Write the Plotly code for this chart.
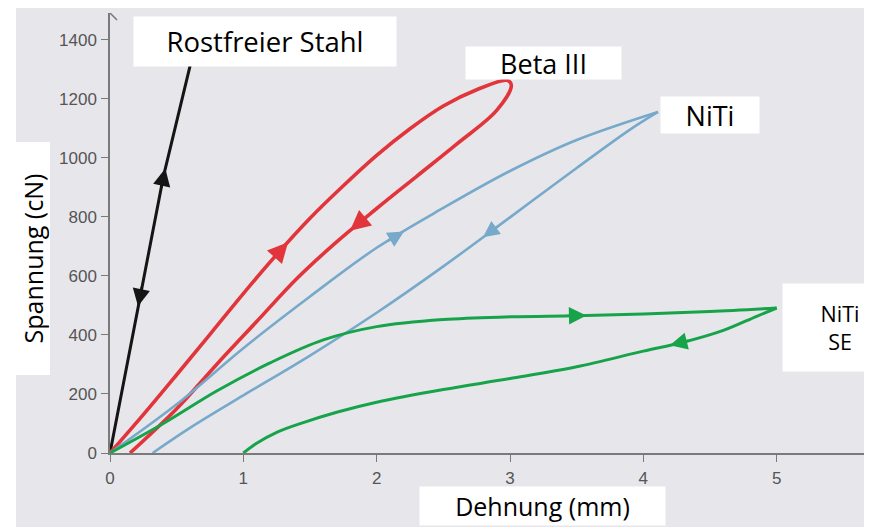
import numpy as np
import plotly.graph_objects as go

# ---------------- data ----------------
steel_x = [0, 0.22, 0.40, 0.60, 0.66]
steel_y = [0, 520, 935, 1310, 1450]

beta_load_x = [0, 0.25, 0.5, 0.75, 1.0, 1.25, 1.5, 1.75, 2.0, 2.25, 2.5, 2.75, 2.98]
beta_load_y = [0, 130, 265, 402, 540, 672, 795, 905, 1008, 1098, 1175, 1230, 1262]
beta_unload_x = [3.01, 2.9, 2.6, 2.3, 2.0, 1.7, 1.4, 1.1, 0.8, 0.5, 0.15]
beta_unload_y = [1245, 1160, 1046, 937, 828, 715, 590, 445, 300, 150, 0]

niti_load_x = [0, 0.5, 1.0, 1.5, 2.0, 2.5, 3.0, 3.5, 4.11]
niti_load_y = [0, 165, 355, 530, 695, 830, 955, 1060, 1155]
niti_unload_x = [4.11, 3.9, 3.5, 3.0, 2.5, 2.0, 1.5, 1.0, 0.6, 0.32]
niti_unload_y = [1155, 1095, 965, 798, 632, 475, 330, 195, 85, 0]

se_load_x = [0, 0.4, 0.8, 1.2, 1.6, 2.0, 2.5, 3.0, 3.5, 4.0, 4.5, 5.0]
se_load_y = [0, 100, 210, 305, 383, 428, 452, 461, 465, 471, 479, 491]
se_unload_x = [5.0, 4.85, 4.6, 4.3, 4.0, 3.5, 3.0, 2.5, 2.0, 1.7, 1.45, 1.25, 1.1, 1.0]
se_unload_y = [491, 463, 415, 375, 345, 292, 252, 215, 172, 138, 103, 70, 33, 0]

x_ticks = [0, 1, 2, 3, 4, 5]
y_ticks = [0, 200, 400, 600, 800, 1000, 1200, 1400]

BLACK = "#151515"
RED = "#e2343b"
BLUE = "#76a9ca"
GREEN = "#17a34a"

# arrow markers: (curve x, curve y, coordinate key, value at arrow, colour, width)
arrows = [
    (steel_x, steel_y, "y", 940, BLACK, 3),
    (steel_x[::-1], steel_y[::-1], "y", 520, BLACK, 3),
    (beta_load_x, beta_load_y, "x", 1.30, RED, 3.5),
    (beta_unload_x, beta_unload_y, "x", 1.84, RED, 3.5),
    (niti_load_x, niti_load_y, "x", 2.16, BLUE, 2.8),
    (niti_unload_x, niti_unload_y, "x", 2.84, BLUE, 2.8),
    (se_load_x, se_load_y, "x", 3.52, GREEN, 3),
    (se_unload_x, se_unload_y, "x", 4.25, GREEN, 3),
]

X_MAX = 5.655
Y_MAX = 1490
SX = 754 / X_MAX   # px per mm
SY = 440 / Y_MAX   # px per cN


def along(xs, ys, key, val, fwd_px, back_px):
    xs = np.asarray(xs, float)
    ys = np.asarray(ys, float)
    px, py = xs * SX, ys * SY
    seg = np.hypot(np.diff(px), np.diff(py))
    s = np.concatenate([[0], np.cumsum(seg)])
    k = xs if key == "x" else ys
    sh = 0.0
    for i in range(len(k) - 1):
        a, b = k[i], k[i + 1]
        if min(a, b) <= val <= max(a, b) and a != b:
            sh = s[i] + (val - a) / (b - a) * seg[i]
            break
    head, tail = sh + fwd_px, sh - back_px
    return (np.interp(head, s, xs), np.interp(head, s, ys),
            np.interp(tail, s, xs), np.interp(tail, s, ys))


def curve(xs, ys, col, w):
    return go.Scatter(x=xs, y=ys, mode="lines", showlegend=False, hoverinfo="skip",
                      line=dict(color=col, width=w, shape="spline", smoothing=1.0))


fig = go.Figure()
fig.add_trace(go.Scatter(x=steel_x, y=steel_y, mode="lines", showlegend=False,
                         line=dict(color=BLACK, width=3)))
fig.add_trace(curve(beta_load_x + beta_unload_x, beta_load_y + beta_unload_y, RED, 3.6))
fig.add_trace(curve(niti_load_x, niti_load_y, BLUE, 2.6))
fig.add_trace(curve(niti_unload_x, niti_unload_y, BLUE, 2.6))
fig.add_trace(curve(se_load_x, se_load_y, GREEN, 3))
fig.add_trace(curve(se_unload_x, se_unload_y, GREEN, 3))

annotations = []
for xs, ys, key, val, col, w in arrows:
    hx, hy, tx, ty = along(xs, ys, key, val, 7, 14)
    annotations.append(dict(x=hx, y=hy, ax=tx, ay=ty, xref="x", yref="y", axref="x", ayref="y",
                            text="", showarrow=True, arrowhead=2, arrowsize=1.45,
                            arrowwidth=w * 0.8, arrowcolor=col, standoff=0, startstandoff=0))

LABEL_FONT = "Open Sans, Noto Sans, sans-serif"


# plot area in window pixels: x 110..864, y 13..453
def box(text, cx, cy, w, h, size, angle=0):
    return dict(text=text, x=(cx - 110) / 754, y=(453 - cy) / 440, xref="paper", yref="paper",
                xanchor="center", yanchor="middle", showarrow=False, width=w, height=h,
                bgcolor="white", borderpad=0, textangle=angle,
                font=dict(family=LABEL_FONT, size=size, color="black"))


annotations += [
    box("Rostfreier Stahl", 265, 41.5, 262, 49, 27.5),
    box("Beta III", 543.5, 63, 155, 32, 27),
    box("NiTi", 710, 115, 98, 36, 27),
    box("NiTi<br>SE", 840, 327, 114, 87, 21.5),
    box("Spannung (cN)", 32.5, 259, 232, 33, 25, -90),
    box("Dehnung (mm)", 542.5, 506, 245, 38, 25),
]

GREY_BG = "#e7e7eb"
shapes = [
    dict(type="rect", xref="paper", yref="paper", x0=(16 - 110) / 754, x1=1.0,
         y0=-0.3, y1=(453 - 4) / 440, fillcolor=GREY_BG, line=dict(width=0), layer="below"),
    dict(type="path", xref="x", yref="y", xsizemode="pixel", ysizemode="pixel",
         xanchor=0, yanchor=Y_MAX, path="M -7,-7 L 0,0 L 7,-7",
         line=dict(color="#777777", width=1.5)),
]

axis_common = dict(showgrid=False, zeroline=False, showline=True, linecolor="#7a7a7a", linewidth=1.5,
                   ticks="outside", ticklen=7, tickcolor="#7a7a7a", tickwidth=1.2,
                   tickfont=dict(family="Liberation Sans, Arial, sans-serif", size=17, color="#555555"))

# the page body adds an 8 px offset, so margins are shifted by 8 px
fig.update_layout(
    width=875, height=527,
    margin=dict(l=102, r=19, t=5, b=82, autoexpand=False),
    paper_bgcolor="white", plot_bgcolor=GREY_BG,
    xaxis=dict(range=[0, X_MAX], tickvals=x_ticks, ticklabelstandoff=2, **axis_common),
    yaxis=dict(range=[0, Y_MAX], tickvals=y_ticks, ticklabelstandoff=1, **axis_common),
    annotations=annotations, shapes=shapes, showlegend=False,
)

fig.write_html("out.html")
